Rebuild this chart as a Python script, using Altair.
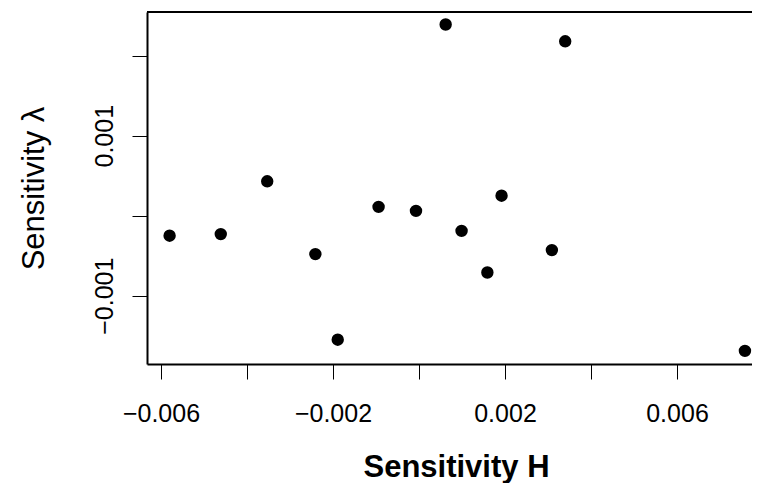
import altair as alt
import pandas as pd

# Data
sens_h = [-0.00580, -0.00461, -0.00353, -0.00241, -0.00189, -0.00094, -0.00007,
          0.00062, 0.00099, 0.00159, 0.00192, 0.00309, 0.00340, 0.00758]
sens_lambda = [-0.00025, -0.00023, 0.00043, -0.00048, -0.00155, 0.00011, 0.00006,
               0.00239, -0.00019, -0.00071, 0.00025, -0.00043, 0.00218, -0.00169]

x_ticks = [-0.006, -0.004, -0.002, 0.0, 0.002, 0.004, 0.006]
y_ticks = [-0.001, 0.0, 0.001, 0.002]

x_domain = [-0.0063256, 0.0077442]
y_domain = [-0.0018538, 0.0025463]

df = pd.DataFrame({"h": sens_h, "lam": sens_lambda})

W, H = 605, 352
FONT = "Liberation Sans"

points = alt.Chart(df).mark_circle(size=154, color="black", opacity=1).encode(
    x=alt.X(
        "h:Q",
        scale=alt.Scale(domain=x_domain, nice=False, zero=False),
        axis=alt.Axis(
            values=x_ticks,
            labelExpr="abs(round(datum.value*1000)) % 4 == 2 ? replace(format(datum.value, '.3f'), '-', '\u2212') : ''",
            grid=False,
            domain=True, domainColor="black", domainWidth=2,
            ticks=True, tickColor="black", tickWidth=1, tickSize=15,
            labelFont=FONT, labelFontSize=25, labelColor="black",
            labelBaseline="alphabetic", labelPadding=42, labelAlign="center",
            labelOverlap=False, labelFlush=False,
            title="Sensitivity H",
            titleFont=FONT, titleFontSize=31, titleFontWeight="bold", titleColor="black",
            titleX=309, titleY=112, titleAlign="center", titleBaseline="alphabetic",
            titleAngle=0,
        ),
    ),
    y=alt.Y(
        "lam:Q",
        scale=alt.Scale(domain=y_domain, nice=False, zero=False),
        axis=alt.Axis(
            values=y_ticks,
            labelExpr="abs(round(datum.value*1000)) % 2 == 1 ? replace(format(datum.value, '.3f'), '-', '\u2212') : ''",
            grid=False,
            domain=True, domainColor="black", domainWidth=2,
            ticks=True, tickColor="black", tickWidth=1, tickSize=15,
            labelFont=FONT, labelFontSize=25, labelColor="black",
            labelAngle=270, labelAlign="center", labelBaseline="alphabetic",
            labelPadding=20, labelOverlap=False, labelFlush=False,
            title="Sensitivity \u03bb",
            titleFont=FONT, titleFontSize=31, titleFontWeight="normal", titleColor="black",
            titleX=-104, titleY=176, titleAngle=270, titleAlign="center",
            titleBaseline="alphabetic",
        ),
    ),
)

top_rule = alt.Chart(pd.DataFrame({"a": [0]})).mark_rule(
    color="black", strokeWidth=2
).encode(x=alt.value(0), x2=alt.value(W), y=alt.value(0))

chart = alt.layer(points, top_rule).properties(
    width=W,
    height=H,
    autosize=alt.AutoSizeParams(type="none"),
    padding={"left": 139, "top": 4, "right": 0, "bottom": 119},
    background="white",
).configure_view(stroke=None)

chart.save("out.html", embed_options={"renderer": "svg", "actions": False})
